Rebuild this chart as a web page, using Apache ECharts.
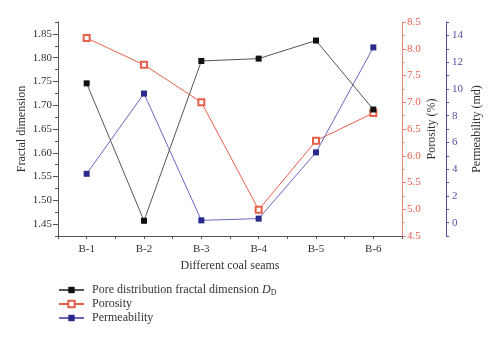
<!DOCTYPE html>
<html>
<head>
<meta charset="utf-8">
<script src="https://cdn.jsdelivr.net/npm/echarts@6/dist/echarts.min.js"></script>
<style>html,body{margin:0;padding:0;background:#fff}#c{width:500px;height:340px}</style>
</head>
<body>
<div id="c"></div>
<script>
var categories = ['B-1','B-2','B-3','B-4','B-5','B-6'];
var fractal = [1.746, 1.457, 1.793, 1.798, 1.836, 1.691];
var porosity = [8.20, 7.70, 7.00, 4.99, 6.28, 6.80];
var permeability = [3.65, 9.65, 0.17, 0.30, 5.25, 13.1];
var fractalTicks = [1.45,1.50,1.55,1.60,1.65,1.70,1.75,1.80,1.85];

var FONT = 'Liberation Serif';
function pairs(arr){ return arr.map(function(v,i){ return [i+1, v]; }); }

var chart = echarts.init(document.getElementById('c'), null, {renderer:'canvas'});
var axisGray = '#555';
var red = '#e8604c';
var blue = '#2a2a8c';
var blueLine = '#6b66c0';
var blueAxis = '#5650a6';

chart.setOption({
  animation:false,
  textStyle:{fontFamily:FONT},
  grid:{left:58, right:98, top:22, bottom:104},
  legend:{
    orient:'vertical', left:53, top:278, itemWidth:25, itemHeight:8, itemGap:0,
    textStyle:{fontFamily:FONT, fontSize:12, color:'#333', lineHeight:14, padding:[0,0,0,3],
      rich:{
        a:{fontFamily:FONT, fontSize:12, color:'#333', lineHeight:14},
        i:{fontFamily:FONT, fontSize:12, fontStyle:'italic', color:'#333', lineHeight:14},
        s:{fontFamily:FONT, fontSize:8, color:'#333', lineHeight:14, verticalAlign:'bottom', padding:[4,0,0,0]}
      }},
    formatter:function(n){
      if(n==='Pore distribution fractal dimension') return '{a|Pore distribution fractal dimension }{i|D}{s|D}';
      return '{a|'+n+'}';
    },
    data:['Pore distribution fractal dimension','Porosity','Permeability']
  },
  xAxis:{
    type:'value', min:0.5, max:6.5, interval:0.5,
    name:'Different coal seams', nameLocation:'middle', nameGap:24, nameMoveOverlap:false,
    nameTextStyle:{fontFamily:FONT, fontSize:12, color:'#333'},
    axisLine:{onZero:false, lineStyle:{color:axisGray, width:1}},
    axisTick:{show:true, length:3, lineStyle:{color:axisGray}},
    axisLabel:{fontFamily:FONT, fontSize:11, color:'#333', margin:8,
      formatter:function(v){ var r=Math.round(v); return Math.abs(v-r)<1e-6 && r>=1 && r<=6 ? categories[r-1] : ''; }},
    splitLine:{show:false}
  },
  yAxis:[
    {
      type:'value', position:'left', min:1.425, max:1.875,
      name:'Fractal dimension', nameLocation:'middle', nameGap:30, nameMoveOverlap:false,
      nameTextStyle:{fontFamily:FONT, fontSize:12, color:'#333'},
      axisLine:{show:true, lineStyle:{color:axisGray}},
      axisTick:{show:true, length:5, lineStyle:{color:axisGray}, customValues:fractalTicks},
      axisLabel:{fontFamily:FONT, fontSize:11, color:'#333', margin:6, customValues:fractalTicks,
        formatter:function(v){ return v.toFixed(2); }},
      splitLine:{show:false}
    },
    {
      type:'value', position:'right', min:4.5, max:8.5, interval:0.5,
      name:'Porosity (%)', nameLocation:'middle', nameGap:24, nameMoveOverlap:false,
      nameTextStyle:{fontFamily:FONT, fontSize:12, color:'#333'},
      axisLine:{show:true, lineStyle:{color:'#e9857a'}},
      axisTick:{show:true, length:4, lineStyle:{color:'#e9857a'}},
      minorTick:{show:true, splitNumber:2, length:2.5, lineStyle:{color:'#e9857a'}},
      axisLabel:{fontFamily:FONT, fontSize:11, color:red, margin:5,
        formatter:function(v){ return v.toFixed(1); }},
      splitLine:{show:false}
    },
    {
      type:'value', position:'right', offset:44, min:-1, max:15, interval:1,
      name:'Permeability (md)', nameLocation:'middle', nameGap:25, nameMoveOverlap:false,
      nameTextStyle:{fontFamily:FONT, fontSize:12, color:'#333'},
      axisLine:{show:true, lineStyle:{color:blueAxis}},
      axisTick:{show:true, length:3, lineStyle:{color:blueAxis}},
      axisLabel:{fontFamily:FONT, fontSize:11, color:blueAxis, margin:6,
        formatter:function(v){ var r=Math.round(v); return (r>=0 && r%2===0) ? String(r) : ''; }},
      splitLine:{show:false}
    },
    {
      type:'value', position:'left', min:1.425, max:1.875, interval:0.025,
      axisLine:{show:false}, axisLabel:{show:false}, splitLine:{show:false},
      axisTick:{show:true, length:3, lineStyle:{color:axisGray}}
    }
  ],
  series:[
    {
      name:'Pore distribution fractal dimension', type:'line', yAxisIndex:0,
      data:pairs(fractal), symbol:'rect', symbolSize:6,
      lineStyle:{color:'#555', width:1},
      itemStyle:{color:'#111', borderColor:'#111', borderWidth:0},
      z:3
    },
    {
      name:'Porosity', type:'line', yAxisIndex:1,
      data:pairs(porosity), symbol:'emptyRect', symbolSize:6,
      lineStyle:{color:red, width:1},
      itemStyle:{color:red, borderColor:red, borderWidth:1},
      z:2
    },
    {
      name:'Permeability', type:'line', yAxisIndex:2,
      data:pairs(permeability), symbol:'rect', symbolSize:6,
      lineStyle:{color:blueLine, width:1},
      itemStyle:{color:blue, borderColor:blue, borderWidth:0},
      z:2
    }
  ]
});
</script>
</body>
</html>
